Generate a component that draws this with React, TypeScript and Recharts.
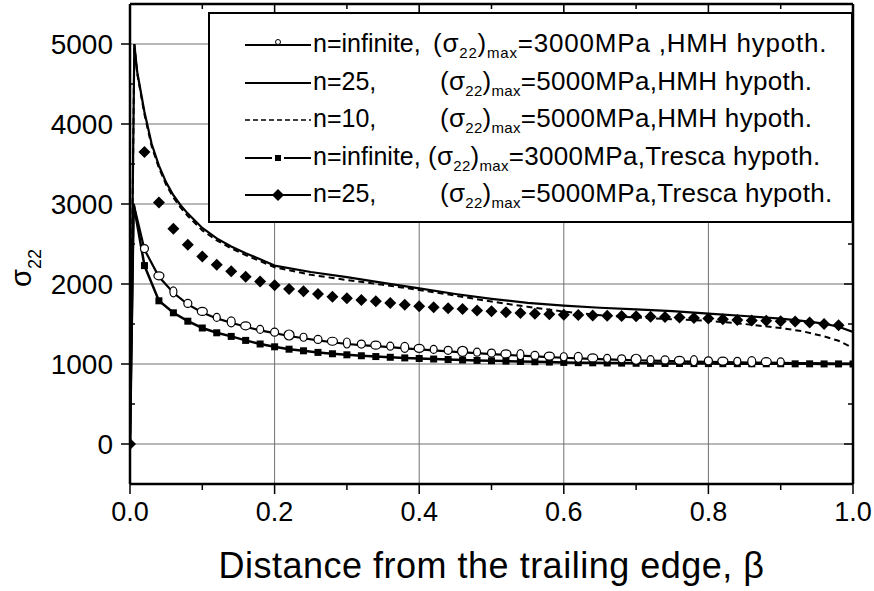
import React from 'react';
import { LineChart, Line, XAxis, YAxis, ReferenceLine } from 'recharts';

// sampling grid for the curves and markers (beta)
const betaGrid = [
  0, 0.005, 0.02, 0.04, 0.06, 0.08, 0.1, 0.12, 0.14, 0.16, 0.18, 0.2, 0.22, 0.24, 0.26, 0.28, 0.3,
  0.32, 0.34, 0.36, 0.38, 0.4, 0.42, 0.44, 0.46, 0.48, 0.5, 0.52, 0.54, 0.56, 0.58, 0.6, 0.62, 0.64,
  0.66, 0.68, 0.7, 0.72, 0.74, 0.76, 0.78, 0.8, 0.82, 0.84, 0.86, 0.88, 0.9, 0.92, 0.94, 0.96, 0.98, 1.0,
];

// n=infinite, 3000 MPa, HMH (open circles)
const sigmaInfHMH = [
  0, 3000, 2430, 2090, 1890, 1745, 1645, 1570, 1515, 1465, 1420, 1385, 1350, 1322, 1295, 1272, 1250,
  1237, 1223, 1210, 1196, 1183, 1170, 1158, 1146, 1135, 1124, 1114, 1104, 1095, 1086, 1078, 1071, 1064,
  1058, 1052, 1047, 1042, 1038, 1034, 1030, 1027, 1024, 1021, 1018, 1016, 1014, 1012, 1010, 1008, 1006, 1004,
];

// n=infinite, 3000 MPa, Tresca (filled squares)
const sigmaInfTresca = [
  0, 3000, 2230, 1790, 1640, 1535, 1450, 1390, 1345, 1295, 1250, 1215, 1185, 1165, 1145, 1128, 1115,
  1103, 1093, 1084, 1076, 1069, 1062, 1056, 1050, 1045, 1040, 1036, 1032, 1028, 1024, 1020, 1017, 1015,
  1013, 1011, 1009, 1008, 1007, 1006, 1005, 1005, 1004, 1004, 1003, 1003, 1003, 1002, 1002, 1001, 1001, 1000,
];

// n=25, 5000 MPa, Tresca (diamonds, markers only)
const betaTresca25 = [
  0, 0.02, 0.04, 0.06, 0.08, 0.1, 0.12, 0.14, 0.16, 0.18, 0.2, 0.22, 0.24, 0.26, 0.28, 0.3, 0.32, 0.34,
  0.36, 0.38, 0.4, 0.42, 0.44, 0.46, 0.48, 0.5, 0.52, 0.54, 0.56, 0.58, 0.6, 0.62, 0.64, 0.66, 0.68, 0.7,
  0.72, 0.74, 0.76, 0.78, 0.8, 0.82, 0.84, 0.86, 0.88, 0.9, 0.92, 0.94, 0.96, 0.98,
];
const sigmaTresca25 = [
  0, 3650, 3020, 2690, 2490, 2345, 2240, 2160, 2090, 2030, 1985, 1937, 1908, 1875, 1842, 1821, 1800, 1783,
  1762, 1742, 1721, 1708, 1696, 1687, 1670, 1658, 1646, 1637, 1627, 1622, 1617, 1612, 1606, 1602, 1600, 1596,
  1592, 1588, 1582, 1576, 1569, 1560, 1550, 1545, 1540, 1535, 1530, 1519, 1500, 1485,
];

// n=25 and n=10, 5000 MPa, HMH (solid / dashed)
const betaHMH = [
  0, 0.006, 0.01, 0.02, 0.03, 0.04, 0.05, 0.06, 0.07, 0.08, 0.1, 0.12, 0.14, 0.16, 0.18, 0.2, 0.25, 0.3,
  0.35, 0.4, 0.45, 0.5, 0.55, 0.6, 0.65, 0.7, 0.75, 0.8, 0.85, 0.9, 0.93, 0.96, 0.98, 1.0,
];
const sigmaHMH25 = [
  0, 5000, 4650, 4150, 3750, 3480, 3270, 3110, 2985, 2880, 2700, 2570, 2470, 2385, 2310, 2230, 2150, 2085,
  2015, 1945, 1875, 1815, 1765, 1730, 1703, 1682, 1660, 1630, 1600, 1568, 1540, 1505, 1465, 1400,
];
const sigmaHMH10 = [
  0, 5000, 4630, 4120, 3720, 3450, 3240, 3080, 2955, 2850, 2670, 2545, 2445, 2360, 2285, 2210, 2115, 2050,
  1990, 1925, 1855, 1780, 1715, 1655, 1610, 1580, 1560, 1540, 1500, 1450, 1410, 1345, 1290, 1200,
];

const xTicks = [0, 0.1, 0.2, 0.3, 0.4, 0.5, 0.6, 0.7, 0.8, 0.9, 1.0];
const yTicks = [0, 500, 1000, 1500, 2000, 2500, 3000, 3500, 4000, 4500, 5000];
const xGrid = [0.2, 0.4, 0.6, 0.8];
const yGrid = [0, 1000, 2000, 3000, 4000, 5000];

const W = 874;
const H = 591;
const PLOT_TOP = 4;
const PLOT_LEFT = 130;
const PLOT_RIGHT = 853;
const PLOT_BOTTOM = 484;
const FONT = 'Liberation Sans, Arial, sans-serif';

const toRows = (xs: number[], ys: number[]) => xs.map((b, i) => ({ beta: b, sigma: ys[i] }));

const circleData = toRows(betaGrid, sigmaInfHMH);
const squareData = toRows(betaGrid, sigmaInfTresca);
const diamondData = toRows(betaTresca25, sigmaTresca25);
const hmh25Data = toRows(betaHMH, sigmaHMH25);
const hmh10Data = toRows(betaHMH, sigmaHMH10);

const CircleDot = (props: any) => {
  const { cx, cy, index, payload } = props;
  if (index < 2 || payload.beta > 0.91) return <g key={index} />;
  // the scanned markers are uneven ellipses
  const rx = index % 3 === 0 ? 5 : index % 3 === 1 ? 3.5 : 4;
  const ry = index % 4 === 0 ? 5 : 4;
  return <ellipse key={index} cx={cx} cy={cy - 1} rx={rx} ry={ry} fill="#fff" stroke="#000" strokeWidth={1.2} />;
};

const SquareDot = (props: any) => {
  const { cx, cy, index } = props;
  if (index < 2) return <g key={index} />;
  return <rect key={index} x={cx - 3.5} y={cy - 3.5} width={7} height={7} fill="#000" />;
};

const DiamondDot = (props: any) => {
  const { cx, cy, index } = props;
  const r = 6;
  return (
    <path key={index} d={`M${cx},${cy - r}L${cx + r},${cy}L${cx},${cy + r}L${cx - r},${cy}Z`} fill="#000" />
  );
};

const XTick = (props: any) => {
  const { x, y, payload } = props;
  const v = payload.value;
  const major = Math.round(v * 10) % 2 === 0;
  return (
    <g>
      <line x1={x} x2={x} y1={y} y2={y + (major ? 10 : 6)} stroke="#000" strokeWidth={1.5} />
      <line x1={x} x2={x} y1={PLOT_TOP} y2={PLOT_TOP + (major ? 9 : 5)} stroke="#000" strokeWidth={1.5} />
      {major && (
        <text x={x} y={y + 37} textAnchor="middle" fontSize={27} fontFamily={FONT} fill="#000">
          {v.toFixed(1)}
        </text>
      )}
    </g>
  );
};

const YTick = (props: any) => {
  const { x, y, payload } = props;
  const v = payload.value;
  const major = v % 1000 === 0;
  return (
    <g>
      {major ? (
        <line x1={x - 9} x2={x} y1={y} y2={y} stroke="#000" strokeWidth={1.5} />
      ) : (
        <line x1={x} x2={x + 5} y1={y} y2={y} stroke="#000" strokeWidth={1.5} />
      )}
      <line x1={PLOT_RIGHT - (major ? 9 : 5)} x2={PLOT_RIGHT} y1={y} y2={y} stroke="#000" strokeWidth={1.5} />
      {major && (
        <text x={x - 17} y={y + 10} textAnchor="end" fontSize={28} fontFamily={FONT} fill="#000">
          {v}
        </text>
      )}
    </g>
  );
};

const YLabel = () => (
  <text transform="translate(31,268) rotate(-90)" textAnchor="middle" fontFamily={FONT} fill="#000">
    <tspan fontSize={29}>σ</tspan>
    <tspan fontSize={18} dy={10}>22</tspan>
  </text>
);

const legendRows = [
  { head: 'n=infinite,', tail: '=3000MPa ,HMH hypoth.', col: 433, spacing: 0.8, kind: 'circle' },
  { head: 'n=25,', tail: '=5000MPa,HMH hypoth.', col: 440, spacing: 0.3, kind: 'solid' },
  { head: 'n=10,', tail: '=5000MPa,HMH hypoth.', col: 440, spacing: 0.3, kind: 'dash' },
  { head: 'n=infinite,', tail: '=3000MPa,Tresca hypoth.', col: 428, spacing: 0.3, kind: 'square' },
  { head: 'n=25,', tail: '=5000MPa,Tresca hypoth.', col: 440, spacing: 0.3, kind: 'diamond' },
];

const LegendSample = ({ kind }: { kind: string }) => (
  <svg width={66} height={20} style={{ position: 'absolute', left: 0, top: 0 }}>
    {kind === 'square' ? (
      <>
        <line x1={0} x2={27} y1={10} y2={10} stroke="#000" strokeWidth={2} />
        <line x1={39} x2={66} y1={10} y2={10} stroke="#000" strokeWidth={2} />
      </>
    ) : (
      <line
        x1={0}
        x2={66}
        y1={10}
        y2={10}
        stroke="#000"
        strokeWidth={kind === 'dash' ? 1.5 : 2}
        strokeDasharray={kind === 'dash' ? '5 3' : undefined}
      />
    )}
    {kind === 'circle' && <circle cx={33} cy={7} r={2.5} fill="#fff" stroke="#000" strokeWidth={1} />}
    {kind === 'square' && <rect x={30} y={7} width={6} height={6} fill="#000" />}
    {kind === 'diamond' && <path d="M33,4L39,10L33,16L27,10Z" fill="#000" />}
  </svg>
);

const LEGEND_LEFT = 208;

const LegendBox = () => (
  <div
    style={{
      position: 'absolute',
      left: LEGEND_LEFT,
      top: 12,
      width: 641,
      height: 207,
      border: '2px solid #000',
      background: '#fff',
      fontFamily: FONT,
      fontSize: 26,
      color: '#000',
    }}
  >
    {legendRows.map((r, i) => (
      <div key={i} style={{ position: 'absolute', left: 35, top: 14 + i * 37.5, height: 30, width: 600 }}>
        <div style={{ position: 'absolute', left: 0, top: 7 }}>
          <LegendSample kind={r.kind} />
        </div>
        <span style={{ position: 'absolute', left: 68, top: 1, whiteSpace: 'nowrap', fontSize: 25 }}>{r.head}</span>
        <span
          style={{
            position: 'absolute',
            left: r.col - LEGEND_LEFT - 37,
            top: 0,
            whiteSpace: 'nowrap',
            letterSpacing: r.spacing,
          }}
        >
          (σ<sub style={{ fontSize: 15 }}>22</sub>)<sub style={{ fontSize: 15 }}>max</sub>
          {r.tail}
        </span>
      </div>
    ))}
  </div>
);

export default function App() {
  return (
    <div style={{ position: 'absolute', left: 0, top: 0, width: W, height: H, background: '#fff' }}>
      <LineChart
        width={W}
        height={H}
        margin={{ top: PLOT_TOP, right: W - PLOT_RIGHT, left: 0, bottom: 0 }}
      >
        <XAxis
          dataKey="beta"
          type="number"
          domain={[0, 1]}
          ticks={xTicks}
          allowDataOverflow
          height={H - PLOT_BOTTOM}
          tickSize={0}
          tickMargin={0}
          tickLine={false}
          tick={<XTick />}
          axisLine={{ stroke: '#000', strokeWidth: 2.5 }}
          interval={0}
          label={{
            value: 'Distance from the trailing edge, β',
            position: 'insideBottom',
            offset: 13,
            fontSize: 36,
            letterSpacing: 0.5,
            fontFamily: FONT,
            fill: '#000',
          }}
        />
        <YAxis
          dataKey="sigma"
          type="number"
          domain={[-500, 5500]}
          ticks={yTicks}
          allowDataOverflow
          width={PLOT_LEFT}
          tickSize={0}
          tickMargin={0}
          tickLine={false}
          tick={<YTick />}
          axisLine={{ stroke: '#000', strokeWidth: 2.5 }}
          interval={0}
          label={{ content: () => <YLabel /> }}
        />
        {xGrid.map((g) => (
          <ReferenceLine key={'x' + g} x={g} stroke="#707070" strokeWidth={1} />
        ))}
        {yGrid.map((g) => (
          <ReferenceLine key={'y' + g} y={g} stroke="#707070" strokeWidth={1} />
        ))}
        <ReferenceLine y={5500} stroke="#000" strokeWidth={2.5} />
        <ReferenceLine x={1} stroke="#000" strokeWidth={2.5} />
        <Line
          data={hmh10Data}
          dataKey="sigma"
          stroke="#000"
          strokeWidth={2}
          strokeDasharray="6 4"
          dot={false}
          isAnimationActive={false}
        />
        <Line data={hmh25Data} dataKey="sigma" stroke="#000" strokeWidth={2.2} dot={false} isAnimationActive={false} />
        <Line
          data={squareData}
          dataKey="sigma"
          stroke="#000"
          strokeWidth={2.5}
          dot={<SquareDot />}
          isAnimationActive={false}
        />
        <Line
          data={circleData}
          dataKey="sigma"
          stroke="#000"
          strokeWidth={2.2}
          dot={<CircleDot />}
          isAnimationActive={false}
        />
        <Line
          data={diamondData}
          dataKey="sigma"
          stroke="none"
          dot={<DiamondDot />}
          isAnimationActive={false}
        />
      </LineChart>
      <LegendBox />
    </div>
  );
}
